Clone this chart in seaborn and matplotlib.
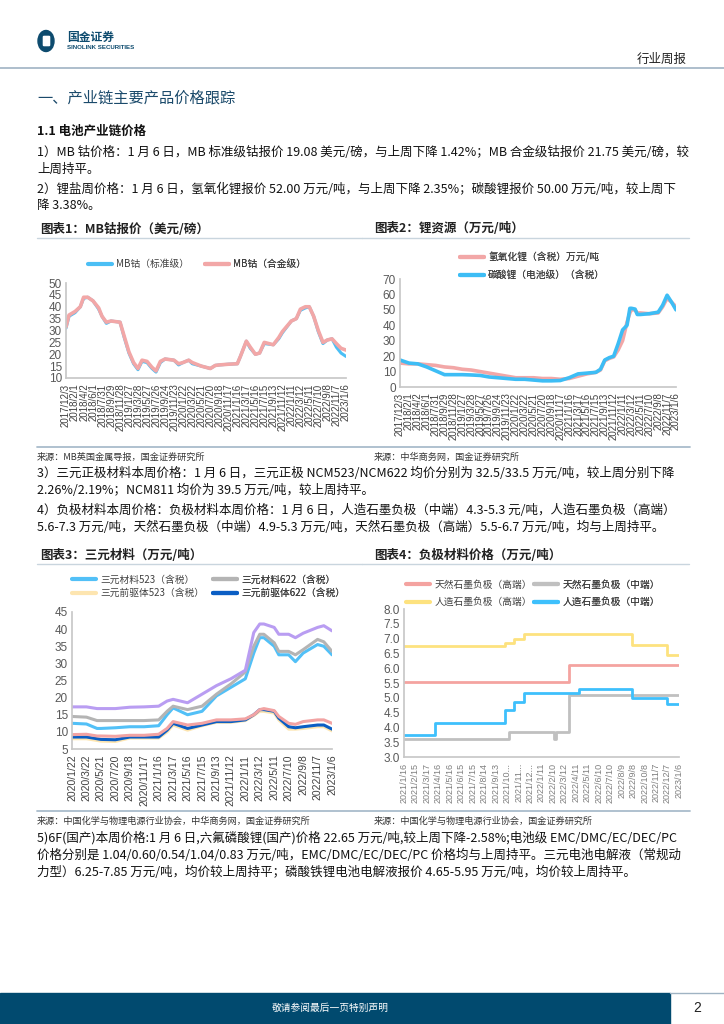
import numpy as np
import pandas as pd
import matplotlib
matplotlib.use("Agg")
import matplotlib.pyplot as plt
import matplotlib.patches as mpatches
import seaborn as sns

sns.set_theme(style="white")
CJK = ["Noto Sans CJK SC", "DejaVu Sans"]
NUM = ["Liberation Sans", "Noto Sans CJK SC"]
plt.rcParams["font.family"] = CJK

W, H = 724, 1024

# ---------------------------------------------------------------------------
# Chart 1: MB cobalt (USD/lb)
# ---------------------------------------------------------------------------
cobalt_dates = ["2017-12-03", "2017-12-23", "2018-02-01", "2018-03-08", "2018-03-30", "2018-04-26",
                "2018-05-31", "2018-07-08", "2018-07-30", "2018-08-28", "2018-09-28", "2018-11-27",
                "2018-12-25", "2019-01-25", "2019-02-25", "2019-03-26", "2019-04-22", "2019-05-25",
                "2019-06-27", "2019-07-24", "2019-08-22", "2019-09-22", "2019-11-20", "2019-12-21",
                "2020-01-19", "2020-02-26", "2020-03-21", "2020-05-20", "2020-07-19", "2020-08-21",
                "2020-09-16", "2020-11-15", "2021-01-14", "2021-02-03", "2021-03-15", "2021-04-10",
                "2021-05-14", "2021-06-11", "2021-07-12", "2021-09-10", "2021-10-16", "2021-11-09",
                "2022-01-08", "2022-02-10", "2022-03-09", "2022-04-11", "2022-05-07", "2022-06-05",
                "2022-07-06", "2022-08-06", "2022-09-04", "2022-10-05", "2022-11-03", "2022-12-04",
                "2023-01-06"]
cobalt_std = [31.0, 36.0, 37.5, 40.0, 43.5, 44.0, 42.5, 39.0, 36.0, 33.0, 34.0, 33.5,
              27.0, 20.5, 16.0, 13.5, 17.0, 16.5, 14.0, 12.5, 16.5, 18.0, 17.5, 15.5,
              16.5, 17.5, 16.0, 15.0, 14.0, 15.3, 15.5, 15.8, 16.0, 19.0, 25.5, 22.5,
              20.0, 20.5, 24.5, 24.0, 26.5, 29.0, 34.0, 35.0, 38.5, 39.5, 40.0, 36.0,
              29.5, 24.5, 26.0, 26.5, 23.0, 20.5, 19.08]
cobalt_alloy = [31.5, 36.5, 38.0, 40.0, 44.0, 44.0, 42.5, 39.5, 36.0, 33.5, 34.0, 33.5,
                27.5, 21.0, 16.5, 14.0, 17.5, 17.0, 14.5, 13.0, 17.0, 18.0, 17.5, 16.0,
                16.5, 17.5, 16.5, 15.0, 14.0, 15.3, 15.5, 15.8, 16.0, 19.0, 25.5, 23.0,
                20.0, 20.5, 25.0, 24.0, 27.0, 29.5, 34.0, 35.0, 39.0, 40.0, 40.0, 36.0,
                30.0, 25.0, 26.0, 26.5, 24.5, 22.5, 21.75]

# ---------------------------------------------------------------------------
# Chart 2: lithium salts (10k CNY/t)
# ---------------------------------------------------------------------------
lithium_dates = ["2017-12-03", "2018-02-01", "2018-04-02", "2018-06-01", "2018-07-31", "2018-09-29",
                 "2018-11-28", "2019-01-27", "2019-03-28", "2019-05-27", "2019-07-26", "2019-09-24",
                 "2019-11-23", "2020-01-22", "2020-03-22", "2020-05-21", "2020-07-20", "2020-09-18",
                 "2020-11-17", "2021-01-16", "2021-03-17", "2021-05-16", "2021-07-15", "2021-08-15",
                 "2021-09-13", "2021-10-13", "2021-11-12", "2021-12-12", "2022-01-11", "2022-02-10",
                 "2022-03-01", "2022-03-12", "2022-04-05", "2022-04-20", "2022-05-11", "2022-07-10",
                 "2022-09-08", "2022-10-08", "2022-11-07", "2022-12-07", "2023-01-06"]
lioh = [15.5, 15.0, 15.0, 14.5, 14.0, 13.0, 12.5, 11.5, 11.0, 10.0, 9.0, 8.0,
        7.0, 6.0, 6.0, 6.0, 5.5, 5.5, 5.0, 5.5, 7.0, 8.5, 9.5, 11.0,
        17.0, 18.5, 19.5, 24.0, 30.0, 42.0, 48.0, 50.0, 50.0, 48.0, 48.0, 47.5,
        48.0, 52.0, 57.5, 55.0, 52.0]
li2co3 = [17.5, 15.5, 15.0, 13.0, 10.5, 8.0, 8.0, 8.0, 7.8, 7.5, 6.5, 6.0,
          5.5, 5.0, 5.0, 4.5, 4.0, 4.0, 4.2, 6.0, 8.5, 9.0, 9.5, 11.5,
          17.5, 19.0, 20.0, 28.0, 37.0, 40.0, 51.0, 51.0, 50.5, 47.0, 47.0, 47.5,
          48.5, 53.0, 59.5, 55.0, 50.0]

# ---------------------------------------------------------------------------
# Chart 3: ternary cathode / precursor (10k CNY/t)
# ---------------------------------------------------------------------------
ncm_dates = ["2020-01-22", "2020-03-22", "2020-05-05", "2020-05-21", "2020-07-20", "2020-09-18",
             "2020-11-17", "2021-01-16", "2021-02-20", "2021-03-17", "2021-05-16", "2021-07-15",
             "2021-09-13", "2021-11-12", "2022-01-11", "2022-02-15", "2022-03-12", "2022-03-29",
             "2022-05-11", "2022-05-30", "2022-07-10", "2022-08-07", "2022-09-08", "2022-11-07",
             "2022-12-03", "2023-01-06"]
ncm523 = [12.5, 12.3, 11.0, 11.0, 11.2, 11.5, 11.5, 11.8, 15.0, 17.0, 15.0, 16.0,
          20.5, 23.0, 25.5, 33.0, 37.5, 37.5, 35.0, 32.5, 32.5, 30.5, 33.0, 35.5, 35.0, 32.5]
ncm622 = [14.5, 14.3, 13.3, 13.3, 13.3, 13.3, 13.3, 13.5, 16.0, 17.5, 16.5, 17.5,
          21.0, 24.0, 27.5, 35.0, 38.5, 38.5, 36.0, 33.5, 33.5, 32.5, 34.0, 37.0, 36.3, 33.5]
pre523 = [8.0, 8.0, 7.5, 7.3, 7.2, 8.2, 8.2, 8.2, 10.0, 12.0, 10.5, 11.8,
          12.8, 12.8, 13.3, 14.8, 16.0, 16.0, 15.5, 13.5, 10.8, 10.8, 11.0, 11.5, 11.5, 10.3]
pre622 = [8.5, 8.5, 8.0, 7.8, 7.7, 8.5, 8.5, 8.5, 10.5, 12.5, 11.0, 12.0,
          13.0, 13.0, 13.5, 15.0, 16.5, 16.5, 16.0, 14.0, 11.5, 11.2, 11.5, 12.0, 12.0, 10.8]
ncm811 = [17.3, 17.3, 16.8, 16.8, 16.8, 17.2, 17.3, 17.5, 19.0, 19.5, 18.5, 21.0,
          23.5, 25.5, 28.0, 39.0, 41.5, 41.5, 40.5, 38.5, 38.5, 37.5, 38.8, 40.5, 41.0, 39.5]
pre811 = [9.2, 9.3, 8.8, 8.8, 8.7, 9.0, 9.0, 9.3, 11.0, 13.0, 12.0, 12.5,
          13.5, 13.5, 13.8, 15.0, 16.5, 16.8, 16.2, 14.5, 12.5, 12.2, 13.0, 13.5, 13.5, 12.5]

# ---------------------------------------------------------------------------
# Chart 4: anode materials (10k CNY/t), step series
# ---------------------------------------------------------------------------
nat_high_dates = ["2021-01-16", "2022-03-24", "2023-01-06"]
nat_high = [5.55, 6.1, 6.1]
nat_mid_dates = ["2021-01-16", "2021-10-18", "2022-02-12", "2022-02-19", "2022-03-24", "2023-01-06"]
nat_mid = [3.6, 3.85, 3.6, 3.85, 5.1, 5.1]
art_high_dates = ["2021-01-16", "2021-10-07", "2021-10-31", "2021-11-26", "2022-09-05", "2022-12-06",
                  "2023-01-06"]
art_high = [6.75, 6.85, 7.0, 7.15, 6.8, 6.45, 6.45]
art_mid_dates = ["2021-01-16", "2021-04-07", "2021-10-07", "2021-10-31", "2021-11-26", "2022-04-19",
                 "2022-09-05", "2022-12-06", "2023-01-06"]
art_mid = [3.75, 4.15, 4.6, 4.85, 5.15, 5.3, 5.0, 4.8, 4.8]


fig = plt.figure(figsize=(W / 100, H / 100), dpi=100)
fig.patch.set_facecolor("white")

# page layer in pixel coordinates
pg = fig.add_axes([0, 0, 1, 1], zorder=0)
pg.set_xlim(0, W)
pg.set_ylim(H, 0)
pg.axis("off")


def px_axes(l, t, r, b):
    return fig.add_axes([l / W, 1 - b / H, (r - l) / W, (b - t) / H], zorder=2)


def style_axes(ax, start, n, step, ylim, yticks, yfmt, xcolor, xsize, trunc=False):
    ax.set_facecolor("none")
    for s in ["top", "right"]:
        ax.spines[s].set_visible(False)
    ax.spines["left"].set_color("#c8c8c8")
    ax.spines["bottom"].set_color("#c8c8c8")
    ticks = pd.date_range(start, periods=n, freq=f"{step}D")
    ax.set_xlim(ticks[0], ticks[-1])
    ax.set_ylim(*ylim)
    ax.set_xticks(ticks)
    labels = [f"{d.year}/{d.month}/{d.day}" for d in ticks]
    if trunc:
        labels = [t if len(t) <= 9 else t[:7] + "..." for t in labels]
    ax.set_xticklabels(labels, rotation=90, fontsize=xsize, color=xcolor, family=NUM)
    ax.set_yticks(yticks)
    ax.set_yticklabels([yfmt.format(v) for v in yticks], fontsize=8.5, color="#595959", family=NUM)
    ax.tick_params(axis="x", length=3, width=0.6, color="#c8c8c8", pad=1)
    ax.tick_params(axis="y", length=0, pad=3)
    ax.set_xlabel("")
    ax.set_ylabel("")


def legend_at(ax, handles, labels, x, y, spacing=0.6):
    leg = ax.legend(handles, labels, loc="center left", bbox_to_anchor=(x / W, 1 - y / H),
                    bbox_transform=fig.transFigure, frameon=False, prop={"family": CJK, "size": 7},
                    handlelength=2.5, handletextpad=0.4, labelspacing=spacing,
                    borderpad=0, borderaxespad=0)
    for ln in leg.get_lines():
        ln.set_linewidth(3)
    for t in leg.get_texts():
        t.set_color("#404040")
    ax.add_artist(leg)
    return leg


def series(ax, dates, values, color, lw, label=None, **kw):
    sns.lineplot(x=pd.to_datetime(dates), y=values, ax=ax, color=color, linewidth=lw,
                 label=label, legend=False, **kw)
    return ax.get_lines()[-1]


# ---------------------------------------------------------------------------
# header
# ---------------------------------------------------------------------------
pg.add_patch(mpatches.Ellipse((46, 41), 16, 21, color="#0d4b6e"))
pg.add_patch(mpatches.FancyBboxPatch((44, 37), 5, 8, boxstyle="round,pad=0.6", color="white"))
pg.text(67, 37.5, "国金证券", fontsize=8.5, fontweight="bold", color="#0d4b6e", va="center", family=CJK)
pg.text(67, 47.5, "SINOLINK SECURITIES", fontsize=4.4, fontweight="bold", color="#0d4b6e",
        va="center", family=NUM)
pg.text(687, 59, "行业周报", fontsize=9, color="#222222", ha="right", va="center")
pg.plot([0, W], [67.7, 67.7], color="#9fb3c3", lw=1.2)

pg.text(37, 98, "一、产业链主要产品价格跟踪", fontsize=11, color="#1b4a6b", va="center")
pg.text(37, 131, "1.1 电池产业链价格", fontsize=9, fontweight="bold", color="#111111", va="center")

body = dict(fontsize=9, color="#111111", va="center", family=CJK)
pg.text(37, 152, "1）MB 钴价格：1 月 6 日，MB 标准级钴报价 19.08 美元/磅，与上周下降 1.42%；MB 合金级钴报价 21.75 美元/磅，较", **body)
pg.text(37, 169, "上周持平。", **body)
pg.text(37, 189, "2）锂盐周价格：1 月 6 日，氢氧化锂报价 52.00 万元/吨，与上周下降 2.35%；碳酸锂报价 50.00 万元/吨，较上周下", **body)
pg.text(37, 206, "降 3.38%。", **body)

title = dict(fontsize=9, fontweight="bold", color="#222222", va="center", family=CJK)
rule = dict(color="#c9d5de", lw=1.0)
pg.text(40, 229, "图表1：MB钴报价（美元/磅）", **title)
pg.text(374, 229, "图表2：锂资源（万元/吨）", **title)
pg.plot([37, 362], [238, 238], **rule)
pg.plot([362, 689], [238, 238], **rule)

# ---------------------------------------------------------------------------
# chart 1
# ---------------------------------------------------------------------------
ax1 = px_axes(66, 283, 346, 378)
h_std = series(ax1, cobalt_dates, cobalt_std, "#4bbff5", 2.2, "MB钴（标准级）")
h_alloy = series(ax1, cobalt_dates, cobalt_alloy, "#f2a7a7", 2.6, "MB钴（合金级）")
style_axes(ax1, "2017-12-03", 32, 60, (10, 50), [10, 15, 20, 25, 30, 35, 40, 45, 50], "{:g}",
           "#404040", 7)
legend_at(ax1, [h_std], ["MB钴（标准级）"], 88, 264)
legend_at(ax1, [h_alloy], ["MB钴（合金级）"], 205, 264)

# ---------------------------------------------------------------------------
# chart 2
# ---------------------------------------------------------------------------
ax2 = px_axes(400, 279, 676, 387)
h_lioh = series(ax2, lithium_dates, lioh, "#f2a7a7", 2.6, "氢氧化锂（含税）万元/吨")
h_co3 = series(ax2, lithium_dates, li2co3, "#3dbdf5", 2.6, "碳酸锂（电池级）（含税）")
style_axes(ax2, "2017-12-03", 32, 60, (0, 70), [0, 10, 20, 30, 40, 50, 60, 70], "{:g}",
           "#404040", 7)
legend_at(ax2, [h_lioh, h_co3], ["氢氧化锂（含税）万元/吨", "碳酸锂（电池级）（含税）"], 460, 266, 0.7)

# sources + paragraphs 3, 4
src = dict(fontsize=6.6, color="#333333", va="center", family=CJK)
srule = dict(color="#a9bccb", lw=1.3)
pg.plot([37, 690], [447, 447], **srule)
pg.text(37, 457, "来源：MB英国金属导报，国金证券研究所", **src)
pg.text(374, 457, "来源：中华商务网，国金证券研究所", **src)

pg.text(37, 473, "3）三元正极材料本周价格：1 月 6 日，三元正极 NCM523/NCM622 均价分别为 32.5/33.5 万元/吨，较上周分别下降", **body)
pg.text(37, 490, "2.26%/2.19%；NCM811 均价为 39.5 万元/吨，较上周持平。", **body)
pg.text(37, 510, "4）负极材料本周价格：负极材料本周价格：1 月 6 日，人造石墨负极（中端）4.3-5.3 元/吨，人造石墨负极（高端）", **body)
pg.text(37, 527, "5.6-7.3 万元/吨，天然石墨负极（中端）4.9-5.3 万元/吨，天然石墨负极（高端）5.5-6.7 万元/吨，均与上周持平。", **body)

pg.text(40, 555, "图表3：三元材料（万元/吨）", **title)
pg.text(374, 555, "图表4：负极材料价格（万元/吨）", **title)
pg.plot([37, 362], [564, 564], **rule)
pg.plot([362, 689], [564, 564], **rule)

# ---------------------------------------------------------------------------
# chart 3
# ---------------------------------------------------------------------------
ax3 = px_axes(72, 612, 332, 749)
h523 = series(ax3, ncm_dates, ncm523, "#52c0f7", 2.2, "三元材料523（含税）")
h622 = series(ax3, ncm_dates, ncm622, "#b4b4b4", 2.2, "三元材料622（含税）")
hp523 = series(ax3, ncm_dates, pre523, "#fde5b0", 2.2, "三元前驱体523（含税）")
hp622 = series(ax3, ncm_dates, pre622, "#0b5ec4", 2.2, "三元前驱体622（含税）")
series(ax3, ncm_dates, ncm811, "#b99df2", 2.2)
series(ax3, ncm_dates, pre811, "#f2a3a3", 2.2)
style_axes(ax3, "2020-01-22", 19, 60, (5, 45), [5, 10, 15, 20, 25, 30, 35, 40, 45], "{:g}",
           "#404040", 7.5)
legend_at(ax3, [h523, hp523], ["三元材料523（含税）", "三元前驱体523（含税）"], 72, 586.5, 0.35)
legend_at(ax3, [h622, hp622], ["三元材料622（含税）", "三元前驱体622（含税）"], 213, 586.5, 0.35)

# ---------------------------------------------------------------------------
# chart 4
# ---------------------------------------------------------------------------
ax4 = px_axes(404, 609, 679, 757)
hn_h = series(ax4, nat_high_dates, nat_high, "#f4a3a0", 2.0, "天然石墨负极（高端）", drawstyle="steps-post")
hn_m = series(ax4, nat_mid_dates, nat_mid, "#c0c0c0", 2.0, "天然石墨负极（中端）", drawstyle="steps-post")
ha_h = series(ax4, art_high_dates, art_high, "#fde27f", 2.0, "人造石墨负极（高端）", drawstyle="steps-post")
ha_m = series(ax4, art_mid_dates, art_mid, "#3ec0fc", 2.0, "人造石墨负极（中端）", drawstyle="steps-post")
style_axes(ax4, "2021-01-16", 25, 30, (3, 8), [3.0, 3.5, 4.0, 4.5, 5.0, 5.5, 6.0, 6.5, 7.0, 7.5, 8.0],
           "{:.1f}", "#7f7f7f", 6.5, trunc=True)
legend_at(ax4, [hn_h, ha_h], ["天然石墨负极（高端）", "人造石墨负极（高端）"], 406, 593.5, 0.75)
legend_at(ax4, [hn_m, ha_m], ["天然石墨负极（中端）", "人造石墨负极（中端）"], 534, 593.5, 0.75)

# sources + paragraph 5
pg.plot([37, 690], [811, 811], **srule)
pg.text(37, 821, "来源：中国化学与物理电源行业协会，中华商务网，国金证券研究所", **src)
pg.text(374, 821, "来源：中国化学与物理电源行业协会，国金证券研究所", **src)

pg.text(37, 838, "5)6F(国产)本周价格:1 月 6 日,六氟磷酸锂(国产)价格 22.65 万元/吨,较上周下降-2.58%;电池级 EMC/DMC/EC/DEC/PC", **body)
pg.text(37, 855, "价格分别是 1.04/0.60/0.54/1.04/0.83 万元/吨，EMC/DMC/EC/DEC/PC 价格均与上周持平。三元电池电解液（常规动", **body)
pg.text(37, 872, "力型）6.25-7.85 万元/吨，均价较上周持平；磷酸铁锂电池电解液报价 4.65-5.95 万元/吨，均价较上周持平。", **body)

# footer
pg.add_patch(mpatches.Rectangle((0, 993), 670, 31, color="#014a6f"))
pg.plot([670, W], [993, 993], color="#9fb3c3", lw=1.0)
pg.text(330, 1008, "敬请参阅最后一页特别声明", fontsize=7, color="white", ha="center", va="center")
pg.text(697, 1008, "2", fontsize=10, color="#222222", ha="center", va="center", family=NUM)

fig.savefig("out.png", dpi=100)
